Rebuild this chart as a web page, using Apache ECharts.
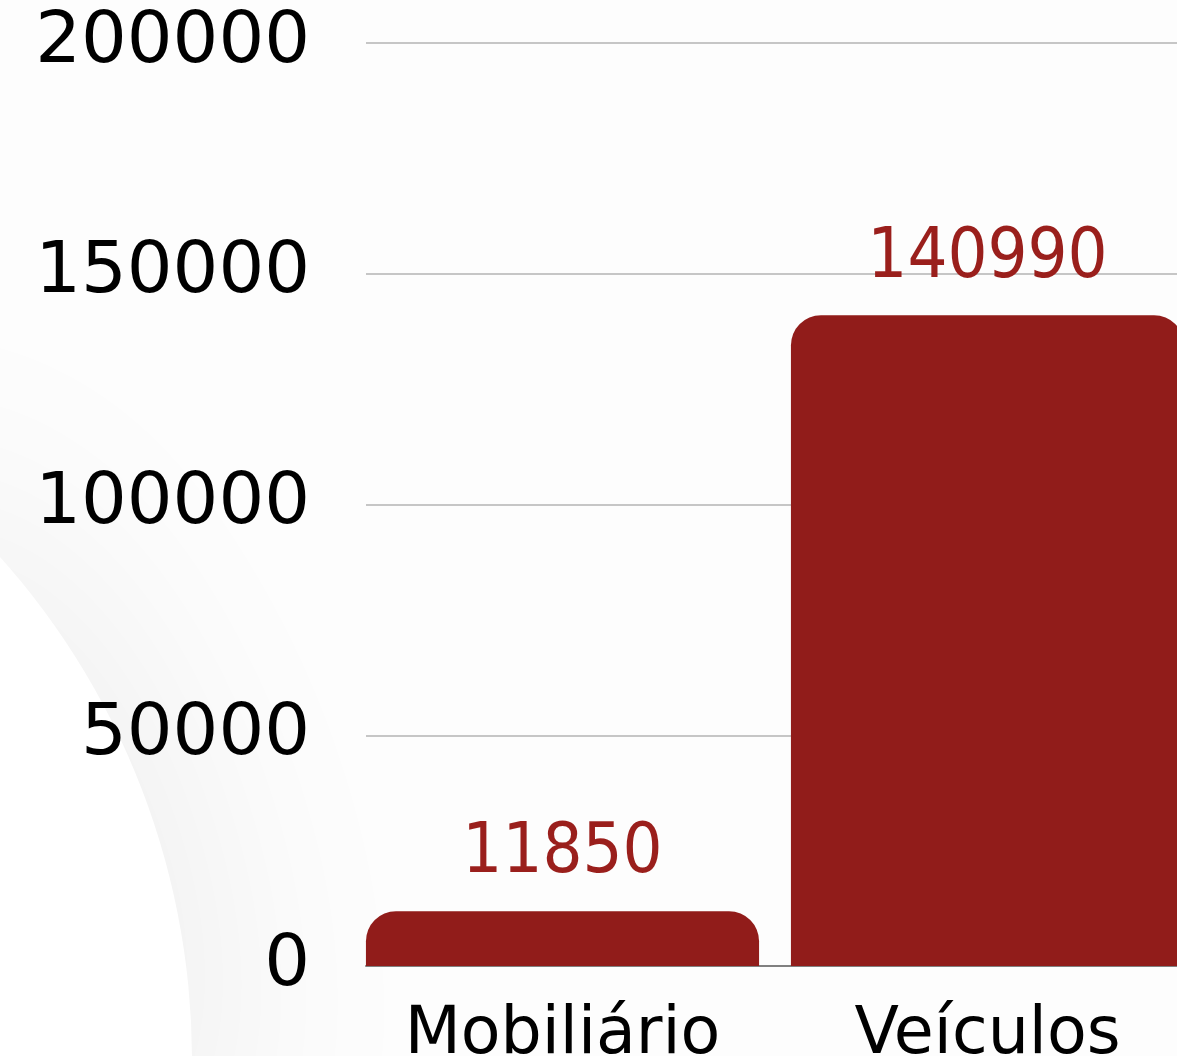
<!DOCTYPE html>
<html>
<head>
<meta charset="utf-8">
<style>
html,body{margin:0;padding:0;background:#fdfdfd;}
#chart{width:1177px;height:1056px;}
</style>
<script src="https://cdn.jsdelivr.net/npm/echarts@6/dist/echarts.min.js"></script>
</head>
<body>
<div id="chart"></div>
<script>
const categories = ["Mobiliário", "Veículos"];
const values = [11850, 140990];
const yMin = 0, yMax = 200000, yInterval = 50000;

const chart = echarts.init(document.getElementById('chart'), null, {renderer: 'canvas'});
const gridTop = 43, gridBottom = 90;

chart.setOption({
  backgroundColor: '#fdfdfd',
  animation: false,
  graphic: [{
    type: 'circle',
    z: -100,
    silent: true,
    shape: {cx: -563, cy: 1060, r: 755},
    style: {fill: '#ffffff', shadowBlur: 260, shadowColor: 'rgba(0,0,0,0.08)'}
  }],
  grid: [
    {left: 350, width: 850, top: gridTop, bottom: gridBottom, outerBoundsMode: 'none', containLabel: false},
    {left: 366, width: 834, top: gridTop, bottom: gridBottom, outerBoundsMode: 'none', containLabel: false}
  ],
  xAxis: [
    {
      type: 'category', gridIndex: 0, data: categories,
      axisLine: {show: false}, axisTick: {show: false},
      axisLabel: {color: '#000', fontFamily: 'DejaVu Sans', fontSize: 65, margin: 38}
    },
    {
      type: 'category', gridIndex: 1, data: categories,
      axisLine: {show: true, lineStyle: {color: '#808080', width: 2}},
      axisTick: {show: false}, axisLabel: {show: false}
    }
  ],
  yAxis: [
    {
      type: 'value', gridIndex: 0, min: yMin, max: yMax, interval: yInterval,
      axisLabel: {show: false}, splitLine: {show: false}, axisLine: {show: false}, axisTick: {show: false}
    },
    {
      type: 'value', gridIndex: 1, min: yMin, max: yMax, interval: yInterval,
      axisLine: {show: false}, axisTick: {show: false},
      splitLine: {show: true, lineStyle: {color: '#c6c6c6', width: 2}},
      axisLabel: {color: '#000', fontFamily: 'DejaVu Sans', fontSize: 72, margin: 56,
        formatter: function (v) { return String(v); }}
    }
  ],
  series: [{
    type: 'bar',
    xAxisIndex: 0, yAxisIndex: 0,
    data: values,
    barCategoryGap: '7.5%',
    itemStyle: {color: '#911c1a', borderRadius: [30, 30, 0, 0]},
    label: {
      show: true, position: 'top', distance: 22,
      color: '#9a1f1c', fontFamily: 'DejaVu Sans Condensed', fontSize: 70
    }
  }]
});
</script>
</body>
</html>
